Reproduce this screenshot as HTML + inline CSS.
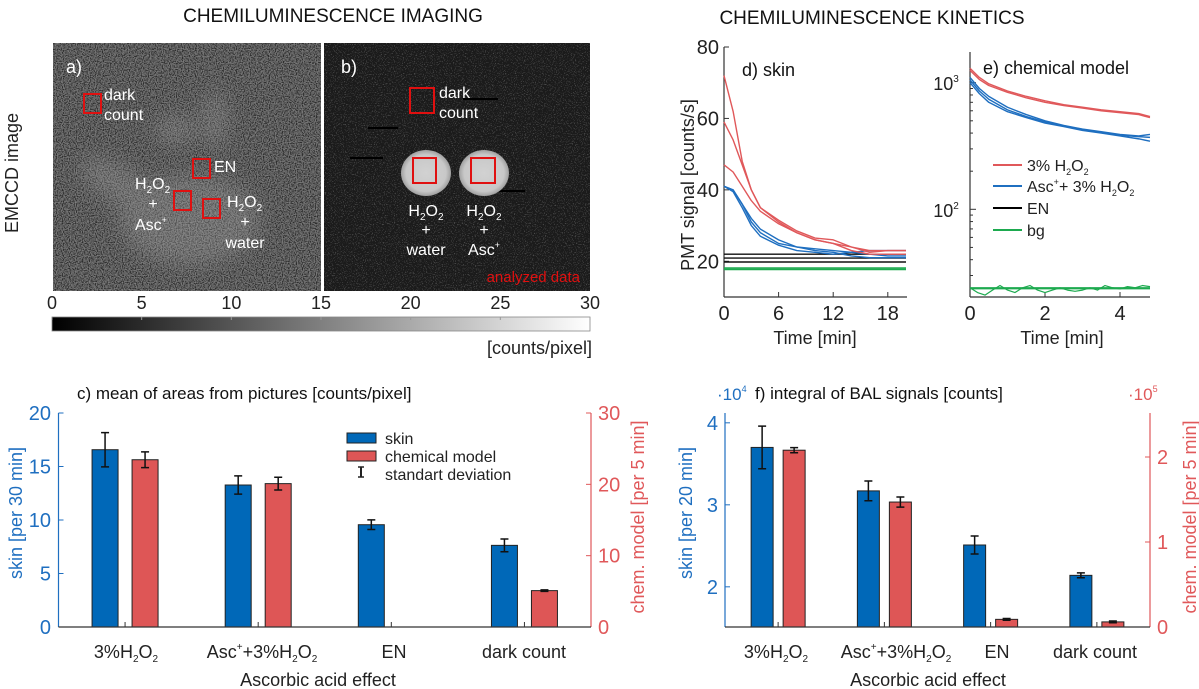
<!DOCTYPE html>
<html><head><meta charset="utf-8">
<style>
html,body{margin:0;padding:0;background:#fff;}
svg{display:block;font-family:"Liberation Sans",Arial,sans-serif;}
</style></head>
<body>
<svg id="fig" width="1199" height="689" viewBox="0 0 1199 689" xmlns="http://www.w3.org/2000/svg">
<defs>
<filter id="noiseA" x="0" y="0" width="100%" height="100%">
<feTurbulence type="fractalNoise" baseFrequency="0.85" numOctaves="1" seed="3"/>
<feColorMatrix type="matrix" values="2.2 0 0 0 -0.85  2.2 0 0 0 -0.85  2.2 0 0 0 -0.85  0 0 0 0 1"/>
</filter>
<filter id="noiseB" x="0" y="0" width="100%" height="100%">
<feTurbulence type="fractalNoise" baseFrequency="0.9" numOctaves="1" seed="7"/>
<feColorMatrix type="matrix" values="2 0 0 0 -1.15  2 0 0 0 -1.15  2 0 0 0 -1.15  0 0 0 0 1"/>
</filter>
<filter id="blur8"><feGaussianBlur stdDeviation="10"/></filter>
<linearGradient id="cbar" x1="0" x2="1" y1="0" y2="0"><stop offset="0" stop-color="#000"/><stop offset="1" stop-color="#fff"/></linearGradient>
<radialGradient id="disc"><stop offset="0" stop-color="#d2d2d2"/><stop offset="0.8" stop-color="#c8c8c8"/><stop offset="1" stop-color="#a0a0a0"/></radialGradient>
</defs>

<!-- Titles -->
<text x="333" y="22" font-size="19" text-anchor="middle" fill="#111">CHEMILUMINESCENCE IMAGING</text>
<text x="872" y="24" font-size="19" text-anchor="middle" fill="#111">CHEMILUMINESCENCE KINETICS</text>
<text transform="translate(18,173) rotate(-90)" font-size="18" text-anchor="middle" fill="#222">EMCCD image</text>

<!-- Image a -->
<g>
<rect x="53" y="43" width="268" height="248" fill="#484848"/>
<rect x="53" y="43" width="268" height="248" filter="url(#noiseA)" opacity="0.35"/>
<g filter="url(#blur8)" opacity="0.3" fill="#aaa">
<ellipse cx="190" cy="220" rx="70" ry="45"/>
<ellipse cx="120" cy="185" rx="45" ry="18" transform="rotate(30 120 185)"/>
<ellipse cx="175" cy="130" rx="20" ry="14"/>
<ellipse cx="215" cy="120" rx="12" ry="30"/>
</g>
<text x="66" y="73" font-size="18" fill="#fff">a)</text>
<rect x="84" y="94" width="17" height="19" fill="none" stroke="#e01010" stroke-width="2"/>
<text x="104" y="100" font-size="16" fill="#fff">dark</text>
<text x="104" y="120" font-size="16" fill="#fff">count</text>
<rect x="193" y="159" width="17" height="19" fill="none" stroke="#e01010" stroke-width="2"/>
<text x="214" y="172" font-size="16" fill="#fff">EN</text>
<rect x="174" y="191" width="17" height="19" fill="none" stroke="#e01010" stroke-width="2"/>
<rect x="203" y="199" width="17" height="19" fill="none" stroke="#e01010" stroke-width="2"/>
<text x="135" y="189" font-size="16" fill="#fff">H<tspan font-size="10" dy="4">2</tspan><tspan dy="-4">O</tspan><tspan font-size="10" dy="4">2</tspan></text>
<text x="153" y="209" font-size="16" fill="#fff" text-anchor="middle">+</text>
<text x="135" y="230" font-size="16" fill="#fff">Asc<tspan font-size="9" dy="-7">+</tspan></text>
<text x="227" y="207" font-size="16" fill="#fff">H<tspan font-size="10" dy="4">2</tspan><tspan dy="-4">O</tspan><tspan font-size="10" dy="4">2</tspan></text>
<text x="245" y="227" font-size="16" fill="#fff" text-anchor="middle">+</text>
<text x="245" y="248" font-size="16" fill="#fff" text-anchor="middle">water</text>
</g>

<!-- Image b -->
<g>
<rect x="324" y="43" width="266" height="248" fill="#282828"/>
<rect x="324" y="43" width="266" height="248" filter="url(#noiseB)" opacity="0.3"/>
<rect x="463" y="98" width="35" height="2" fill="#000"/>
<rect x="350" y="157" width="33" height="2" fill="#000"/>
<rect x="368" y="127" width="30" height="2" fill="#000"/>
<rect x="495" y="190" width="30" height="2" fill="#000"/>
<ellipse cx="426" cy="173" rx="25" ry="23" fill="url(#disc)"/>
<ellipse cx="484" cy="173" rx="25" ry="23" fill="url(#disc)"/>
<text x="341" y="73" font-size="18" fill="#fff">b)</text>
<rect x="410" y="88" width="24" height="25" fill="none" stroke="#e01010" stroke-width="2"/>
<text x="439" y="98" font-size="16" fill="#fff">dark</text>
<text x="439" y="118" font-size="16" fill="#fff">count</text>
<rect x="413" y="158" width="23" height="25" fill="none" stroke="#e01010" stroke-width="2"/>
<rect x="471" y="158" width="24" height="25" fill="none" stroke="#e01010" stroke-width="2"/>
<text x="426" y="216" font-size="16" fill="#fff" text-anchor="middle">H<tspan font-size="10" dy="4">2</tspan><tspan dy="-4">O</tspan><tspan font-size="10" dy="4">2</tspan></text>
<text x="426" y="235" font-size="16" fill="#fff" text-anchor="middle">+</text>
<text x="426" y="255" font-size="16" fill="#fff" text-anchor="middle">water</text>
<text x="484" y="216" font-size="16" fill="#fff" text-anchor="middle">H<tspan font-size="10" dy="4">2</tspan><tspan dy="-4">O</tspan><tspan font-size="10" dy="4">2</tspan></text>
<text x="484" y="235" font-size="16" fill="#fff" text-anchor="middle">+</text>
<text x="484" y="255" font-size="16" fill="#fff" text-anchor="middle">Asc<tspan font-size="9" dy="-7">+</tspan></text>
<text x="580" y="282" font-size="15" fill="#e01010" text-anchor="end">analyzed data</text>
</g>

<!-- Colorbar -->
<rect x="52" y="317" width="538" height="14" fill="url(#cbar)" stroke="#888" stroke-width="0.8"/>
<g id="cbticks" font-size="18" fill="#222" text-anchor="middle"></g>
<text x="592" y="354" font-size="18" fill="#222" text-anchor="end">[counts/pixel]</text>

<!-- d) and e) -->
<g id="chartD"></g>
<g id="chartE"></g>
<text transform="translate(694,185) rotate(-90)" font-size="18" text-anchor="middle" fill="#222">PMT signal [counts/s]</text>
<text x="742" y="76" font-size="18" fill="#111">d) skin</text>
<text x="983" y="74" font-size="18" fill="#111">e) chemical model</text>
<text x="815" y="344" font-size="18" fill="#222" text-anchor="middle">Time [min]</text>
<text x="1062" y="344" font-size="18" fill="#222" text-anchor="middle">Time [min]</text>
<text x="946" y="90" font-size="18" fill="#222" text-anchor="middle">10<tspan font-size="10" dy="-8">3</tspan></text>
<text x="946" y="217" font-size="18" fill="#222" text-anchor="middle">10<tspan font-size="10" dy="-8">2</tspan></text>
<g font-size="16" fill="#222">
<line x1="993" y1="165" x2="1022" y2="165" stroke="#e0585a" stroke-width="2"/>
<text x="1027" y="171">3% H<tspan font-size="9" dy="4">2</tspan><tspan dy="-4">O</tspan><tspan font-size="9" dy="4">2</tspan></text>
<line x1="993" y1="186" x2="1022" y2="186" stroke="#1f6fc0" stroke-width="2"/>
<text x="1027" y="192">Asc<tspan font-size="9" dy="-7">+</tspan><tspan dy="7">+ 3% H</tspan><tspan font-size="9" dy="4">2</tspan><tspan dy="-4">O</tspan><tspan font-size="9" dy="4">2</tspan></text>
<line x1="993" y1="208" x2="1022" y2="208" stroke="#000" stroke-width="2"/>
<text x="1027" y="214">EN</text>
<line x1="993" y1="230" x2="1022" y2="230" stroke="#1daa4f" stroke-width="2"/>
<text x="1027" y="236">bg</text>
</g>

<!-- c) -->
<g id="chartC"></g>
<text x="77" y="399" font-size="17" fill="#111">c) mean of areas from pictures [counts/pixel]</text>
<text transform="translate(22,513) rotate(-90)" font-size="18" text-anchor="middle" fill="#1f6fc0">skin [per 30 min]</text>
<text transform="translate(644,517) rotate(-90)" font-size="18" text-anchor="middle" fill="#e0585a">chem. model [per 5 min]</text>
<g font-size="18" fill="#222" text-anchor="middle">
<text x="126" y="658">3%H<tspan font-size="10" dy="4">2</tspan><tspan dy="-4">O</tspan><tspan font-size="10" dy="4">2</tspan></text>
<text x="262" y="658">Asc<tspan font-size="10" dy="-8">+</tspan><tspan dy="8">+3%H</tspan><tspan font-size="10" dy="4">2</tspan><tspan dy="-4">O</tspan><tspan font-size="10" dy="4">2</tspan></text>
<text x="394" y="658">EN</text>
<text x="524" y="658">dark count</text>
</g>
<text x="318" y="686" font-size="18" fill="#222" text-anchor="middle">Ascorbic acid effect</text>
<g font-size="16" fill="#222">
<rect x="347" y="433" width="29" height="10" fill="#0068b8" stroke="#222"/>
<text x="385" y="444">skin</text>
<rect x="347" y="451" width="29" height="10" fill="#de5656" stroke="#222"/>
<text x="385" y="462">chemical model</text>
<line x1="361" y1="467" x2="361" y2="477" stroke="#222" stroke-width="2"/>
<line x1="358" y1="467" x2="364" y2="467" stroke="#222" stroke-width="1.5"/>
<line x1="358" y1="477" x2="364" y2="477" stroke="#222" stroke-width="1.5"/>
<text x="385" y="480">standart deviation</text>
</g>

<!-- f) -->
<g id="chartF"></g>
<text x="755" y="399" font-size="17" fill="#111">f) integral of BAL signals [counts]</text>
<text x="717" y="400" font-size="17" fill="#1f6fc0">·10<tspan font-size="9" dy="-8">4</tspan></text>
<text x="1128" y="400" font-size="17" fill="#e0585a">·10<tspan font-size="9" dy="-8">5</tspan></text>
<text transform="translate(692,513) rotate(-90)" font-size="18" text-anchor="middle" fill="#1f6fc0">skin [per 20 min]</text>
<text transform="translate(1196,517) rotate(-90)" font-size="18" text-anchor="middle" fill="#e0585a">chem. model [per 5 min]</text>
<g font-size="18" fill="#222" text-anchor="middle">
<text x="776" y="658">3%H<tspan font-size="10" dy="4">2</tspan><tspan dy="-4">O</tspan><tspan font-size="10" dy="4">2</tspan></text>
<text x="896" y="658">Asc<tspan font-size="10" dy="-8">+</tspan><tspan dy="8">+3%H</tspan><tspan font-size="10" dy="4">2</tspan><tspan dy="-4">O</tspan><tspan font-size="10" dy="4">2</tspan></text>
<text x="997" y="658">EN</text>
<text x="1095" y="658">dark count</text>
</g>
<text x="928" y="686" font-size="18" fill="#222" text-anchor="middle">Ascorbic acid effect</text>
</svg>

<script>
// ---------- data ----------
const cbTicks = [0,5,10,15,20,25,30];
const dTicksY = [20,40,60,80];
const dTicksX = [0,6,12,18];
const dTime = [0,1,2,3,4,6,8,10,12,14,16,18,20];
const dRed1 = [72,62,48,40,35,31,28,26,25,23,22,22,22];
const dRed2 = [59,54,47,40,35,31.5,28.5,26.5,26,24,22.5,23,23];
const dRed3 = [47,45,41,37,34,30.5,28,26,25,24,23,23,23];
const dBlue1 = [41,40,36,31,28,25,24,23.5,23,22.5,22,21.5,21.5];
const dBlue2 = [41,39.5,35,30,27,24.5,23,22.5,22,22.5,23,23,23];
const dBlue3 = [41,40,36,32,29,26,24,23,22.5,21.5,21,21,21];
const dBlack = [22,20.9,19.8];
const dGreen = [18.1,17.7];
const eTicksX = [0,2,4];
const eTime = [0,0.25,0.5,1,1.5,2,2.5,3,3.5,4,4.5,4.8];
const eRed1 = [1300,1100,980,860,780,720,670,640,610,590,570,540];
const eRed2 = [1250,1060,950,840,760,700,660,630,600,580,560,530];
const eBlue1 = [1100,900,780,640,560,500,460,430,410,390,380,390];
const eBlue2 = [1000,820,700,590,530,480,450,420,400,380,360,345];
const eBlue3 = [1050,860,740,610,540,490,455,425,405,385,375,370];
const eGreenFlat = 23.8;
const eGreenTime = [0,0.2,0.4,0.6,0.8,1,1.2,1.4,1.6,1.8,2,2.2,2.4,2.6,2.8,3,3.2,3.4,3.6,3.8,4,4.2,4.4,4.6,4.8];
const eGreenWavy = [24,22,21,23,25,23,22,24,25,23,22,23,24,23,22.5,23,24,23,25,24,23.5,24.5,24,25,24.5];
const categories = ['3%H2O2','Asc+3%H2O2','EN','dark count'];
const cSkin = [16.57,13.27,9.56,7.63];
const cSkinErr = [1.6,0.85,0.45,0.6];
const cChem = [23.45,20.1,0,5.1];
const cChemErr = [1.1,0.9,0,0.1];
const cTicksL = [0,5,10,15,20];
const cTicksR = [0,10,20,30];
const fSkin = [3.70,3.17,2.51,2.14];
const fSkinErr = [0.26,0.12,0.11,0.03];
const fChem = [2.08,1.47,0.09,0.06];
const fChemErr = [0.03,0.06,0.01,0.01];
const fTicksL = [2,3,4];
const fTicksR = [0,1,2];

// ---------- helpers ----------
const NS='http://www.w3.org/2000/svg';
function mk(tag,attrs,parent){const e=document.createElementNS(NS,tag);for(const k in attrs)e.setAttribute(k,attrs[k]);parent.appendChild(e);return e;}
function txt(parent,x,y,s,anchor,fill,size){const t=mk('text',{x:x,y:y,'text-anchor':anchor,fill:fill,'font-size':size||18},parent);t.textContent=s;return t;}
const BLUE='#1f6fc0', RED='#e0585a', GREEN='#1daa4f';

// colorbar
const cbG=document.getElementById('cbticks');
const cbx=v=>52+v*538/30;
cbTicks.forEach(v=>{
  const t=txt(cbG,cbx(v),309,String(v),'middle','#222');
  
  
  mk('line',{x1:cbx(v),x2:cbx(v),y1:317,y2:320,stroke:'#999'},cbG);
});

// ---------- chart d ----------
const gD=document.getElementById('chartD');
const dx=t=>724+t*(906-724)/20;
const dy=v=>297-(v-10)*(250/70);
mk('line',{x1:724,y1:47,x2:724,y2:297,stroke:'#333','stroke-width':1.2},gD);
mk('line',{x1:724,y1:297,x2:907,y2:297,stroke:'#333','stroke-width':1.2},gD);
dTicksY.forEach(v=>{mk('line',{x1:724,x2:729,y1:dy(v),y2:dy(v),stroke:'#333'},gD);
  const t=txt(gD,719,dy(v)+7,String(v),'end','#222',20);
  
  });
dTicksX.forEach(v=>{mk('line',{x1:dx(v),x2:dx(v),y1:297,y2:292,stroke:'#333'},gD);
  const t=txt(gD,dx(v),320,String(v),'middle','#222',20);
  
  });
function line(parent,xs,ys,fx,fy,color,w){return mk('polyline',{points:xs.map((x,i)=>fx(x)+','+fy(ys[i])).join(' '),fill:'none',stroke:color,'stroke-width':w||1.4,'stroke-linejoin':'round'},parent);}
dBlack.forEach(v=>{const l=mk('line',{x1:dx(0),x2:dx(20),y1:dy(v),y2:dy(v),stroke:'#111','stroke-width':1.4},gD);
  
  });
dGreen.forEach(v=>{const l=mk('line',{x1:dx(0),x2:dx(20),y1:dy(v),y2:dy(v),stroke:GREEN,'stroke-width':1.6},gD);
  
  });
[dBlue1,dBlue2,dBlue3].forEach(s=>{const l=line(gD,dTime,s,dx,dy,BLUE);
  
  });
[dRed1,dRed2,dRed3].forEach(s=>{const l=line(gD,dTime,s,dx,dy,RED);
  
  });

// ---------- chart e ----------
const gE=document.getElementById('chartE');
const ex=t=>970+t*(1150-970)/4.8;
const ey=v=>209.3-(Math.log10(v)-2)*126.6;
mk('line',{x1:970,y1:52,x2:970,y2:297,stroke:'#333','stroke-width':1.2},gE);
mk('line',{x1:970,y1:297,x2:1150,y2:297,stroke:'#333','stroke-width':1.2},gE);
[30,40,50,60,70,80,90,200,300,400,500,600,700,800,900,2000].forEach(v=>{const y=ey(v); if(y>=52&&y<=297) mk('line',{x1:970,x2:973,y1:y,y2:y,stroke:'#333'},gE);});
[100,1000].forEach(v=>mk('line',{x1:970,x2:976,y1:ey(v),y2:ey(v),stroke:'#333'},gE));
eTicksX.forEach(v=>{mk('line',{x1:ex(v),x2:ex(v),y1:297,y2:292,stroke:'#333'},gE);
  const t=txt(gE,ex(v),320,String(v),'middle','#222',20);
  
  });
const eg=mk('line',{x1:ex(0),x2:ex(4.8),y1:ey(eGreenFlat),y2:ey(eGreenFlat),stroke:GREEN,'stroke-width':2.2},gE);


const ew=line(gE,eGreenTime,eGreenWavy,ex,ey,GREEN,1.2);


[eBlue1,eBlue2,eBlue3].forEach(s=>{const l=line(gE,eTime,s,ex,ey,BLUE);
  
  });
[eRed1,eRed2].forEach(s=>{const l=line(gE,eTime,s,ex,ey,RED);
  
  });

// ---------- bar charts ----------
function barChart(g,opt){
  const {x0,x1,yL,yR,skin,skinErr,chem,chemErr,tL,tR,off,bw,lblL,lblR,pfx}=opt;
  const step=(x1-x0)/4;
  const cx=i=>x0+(i+0.5)*step;
  mk('line',{x1:x0,y1:413,x2:x0,y2:627,stroke:BLUE,'stroke-width':1.2},g);
  mk('line',{x1:x1,y1:413,x2:x1,y2:627,stroke:RED,'stroke-width':1.2},g);
  tL.forEach(v=>{mk('line',{x1:x0,x2:x0+5,y1:yL(v),y2:yL(v),stroke:BLUE},g);
    const t=txt(g,lblL,yL(v)+7,String(v),'end',BLUE,20);
    
    });
  tR.forEach(v=>{mk('line',{x1:x1,x2:x1-5,y1:yR(v),y2:yR(v),stroke:RED},g);
    const t=txt(g,lblR,yR(v)+7,String(v),'start',RED,20);
    
    });
  skin.forEach((v,i)=>{
    const x=cx(i)-off-bw/2, y=yL(v);
    const r=mk('rect',{x:x,y:y,width:bw,height:627-y,fill:'#0068b8',stroke:'#222','stroke-width':1},g);
    
    
    const e=skinErr[i],xc=cx(i)-off;
    const eb=mk('path',{d:`M${xc},${yL(v+e)}V${yL(v-e)}M${xc-4},${yL(v+e)}H${xc+4}M${xc-4},${yL(v-e)}H${xc+4}`,stroke:'#111','stroke-width':1.5,fill:'none'},g);
    
    
  });
  chem.forEach((v,i)=>{
    if(v<=0) return;
    const x=cx(i)+off-bw/2, y=yR(v);
    const r=mk('rect',{x:x,y:y,width:bw,height:627-y,fill:'#de5656',stroke:'#222','stroke-width':1},g);
    
    
    const e=chemErr[i],xc=cx(i)+off;
    const eb=mk('path',{d:`M${xc},${yR(v+e)}V${yR(v-e)}M${xc-4},${yR(v+e)}H${xc+4}M${xc-4},${yR(v-e)}H${xc+4}`,stroke:'#111','stroke-width':1.5,fill:'none'},g);
    
    
  });
  mk('line',{x1:x0,y1:627,x2:x1,y2:627,stroke:'#333','stroke-width':1.2},g);
  categories.forEach((c,i)=>mk('line',{x1:cx(i),x2:cx(i),y1:627,y2:622,stroke:'#333'},g));
}
barChart(document.getElementById('chartC'),{x0:58.5,x1:591,yL:v=>627-v*10.7,yR:v=>627-v*7.133,
  skin:cSkin,skinErr:cSkinErr,chem:cChem,chemErr:cChemErr,tL:cTicksL,tR:cTicksR,off:20,bw:26,lblL:51,lblR:598,pfx:'c'});
barChart(document.getElementById('chartF'),{x0:725,x1:1150,yL:v=>627-(v-1.51)*82,yR:v=>627-v*85,
  skin:fSkin,skinErr:fSkinErr,chem:fChem,chemErr:fChemErr,tL:fTicksL,tR:fTicksR,off:16,bw:22,lblL:718,lblR:1157,pfx:'f'});
</script>
</body></html>
